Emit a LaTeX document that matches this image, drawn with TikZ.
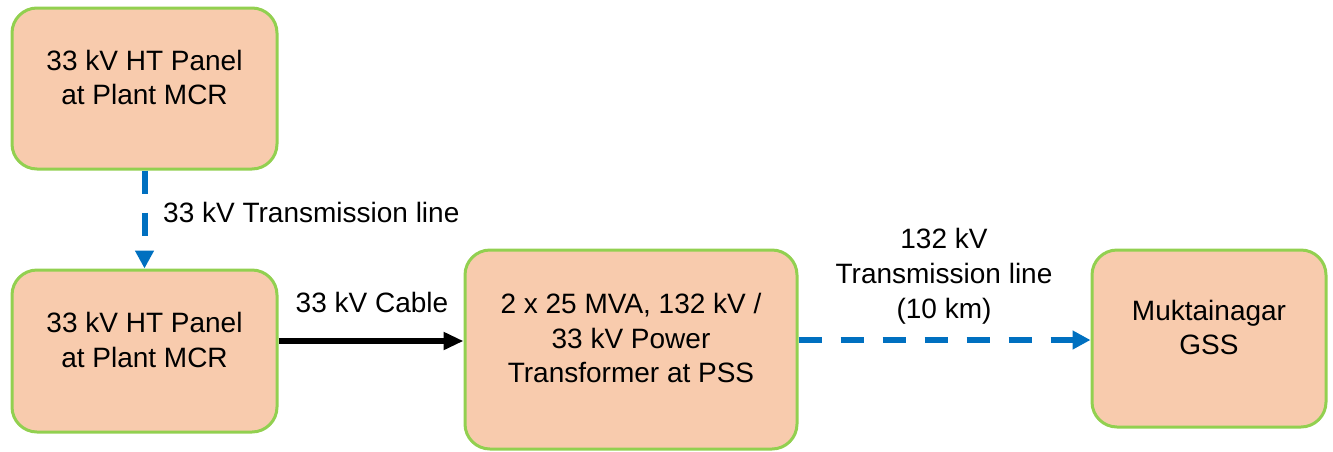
\documentclass[tikz,border=0pt]{standalone}
\usepackage{fontspec}
\setmainfont{Liberation Sans}
\usetikzlibrary{arrows.meta}
\definecolor{boxfill}{HTML}{F8CBAD}
\definecolor{boxline}{HTML}{92D050}
\definecolor{linkblue}{HTML}{0070C0}
\newcommand{\boxtxt}[1]{\raisebox{8pt}[\height][\depth]{\begin{tabular}{@{}c@{}}#1\end{tabular}}}
\begin{document}
\begin{tikzpicture}[x=1pt,y=-1pt,
  panel/.style={draw=boxline, fill=boxfill, line width=3pt, rounded corners=25pt,
    align=center, inner sep=0pt, font=\fontsize{28}{34.5}\selectfont},
  lbl/.style={align=center, inner sep=0pt, font=\fontsize{28}{35}\selectfont},
  bluedash/.style={draw=linkblue, line width=6pt, dash pattern=on 23pt off 19pt,
    -{Triangle[length=18pt,width=18pt]}},
  cable/.style={draw=black, line width=5.5pt, -{Triangle[length=20pt,width=17pt]}}]
\useasboundingbox (0,0) rectangle (1333,451);
\node[panel, minimum width=265pt, minimum height=161pt] (a) at (144.5,88.5) {\boxtxt{33 kV HT Panel\\at Plant MCR}};
\node[panel, minimum width=265pt, minimum height=162pt] (b) at (144.5,351) {\boxtxt{33 kV HT Panel\\at Plant MCR}};
\node[panel, minimum width=332pt, minimum height=199pt] (c) at (631,349.5) {\boxtxt{2 x 25 MVA, 132 kV /\\33 kV Power\\Transformer at PSS}};
\node[panel, minimum width=234pt, minimum height=177pt] (d) at (1209,338.5) {\boxtxt{Muktainagar\\GSS}};
\draw[bluedash] (a.south) -- (b.north);
\draw[cable] (b.east |- 0,341) -- (c.west |- 0,341);
\draw[bluedash] (c.east |- 0,340) -- (d.west |- 0,340);
\node[lbl, anchor=west] (l1) at (163,212) {33 kV Transmission line};
\node[lbl] (l2) at (372,302) {33 kV Cable};
\node[lbl] (l3) at (944,276) {132 kV\\Transmission line\\(10 km)};
\end{tikzpicture}
\end{document}
